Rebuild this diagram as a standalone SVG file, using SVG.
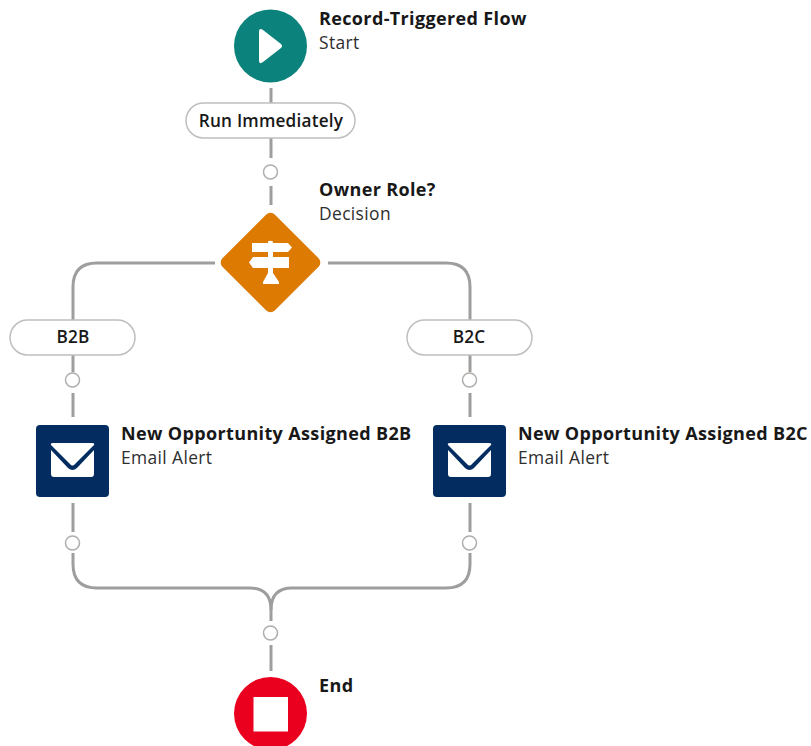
<svg xmlns="http://www.w3.org/2000/svg" width="811" height="746" viewBox="0 0 811 746">
<style>
text{font-family:"Open Sans","Noto Sans","Liberation Sans",sans-serif;fill:#181818}
.t{font-size:18px;font-weight:700;letter-spacing:.36px}
.s{font-size:17.4px;fill:#2e2e2e;letter-spacing:.38px}
.p{fill:#fff;stroke:#c0bfbf;stroke-width:1.5}
.pt{font-size:17.2px;font-weight:600;text-anchor:middle;letter-spacing:.2px}
.c{fill:none;stroke:#9f9e9d;stroke-width:3}
.o{fill:#fff;stroke:#b0adab;stroke-width:1.5}
.w{fill:#fff}
</style>
<g id="connectors">
<path class="c" d="M271 88V103M271 138V158M271 186V205"/>
<path class="c" d="M215 263H97Q73 263 73 287V320M73 355V372M73 393V417M73 503V532M73 553V564Q73 588 97 588H250Q271 588 271 610V621"/>
<path class="c" d="M328 263H446Q470 263 470 287V320M470 355V372M470 393V417M470 503V532M470 553V564Q470 588 446 588H292Q271 588 271 610"/>
<path class="c" d="M271 645V671"/>
<circle class="o" cx="270.500" cy="172" r="7"/>
<circle class="o" cx="72.500" cy="380" r="7"/>
<circle class="o" cx="469.500" cy="380" r="7"/>
<circle class="o" cx="72.500" cy="543" r="7"/>
<circle class="o" cx="469.500" cy="543" r="7"/>
<circle class="o" cx="270.500" cy="633" r="7"/>
</g>
<g id="start">
<circle cx="270.500" cy="46" r="36.500" fill="#0b827c"/>
<path class="w" d="M259 32Q259 27 263 30L281 44Q283 46 281 48L263 62Q259 65 259 60Z"/>
<text class="t" x="319" y="24.500">Record-Triggered Flow</text>
<text class="s" x="319" y="48.500">Start</text>
</g>
<g id="run-immediately">
<rect class="p" x="186" y="103" width="169" height="35" rx="17.500"/>
<text class="pt" x="271" y="127">Run Immediately</text>
</g>
<g id="decision">
<rect x="233.500" y="225.500" width="74" height="74" rx="6" fill="#dd7a01" transform="rotate(45 270.500 262.500)"/>
<path class="w" d="M252 243H268V241.500Q270 240 273 241.500V243H288L292 247.500L288 252H252Z"/>
<path class="w" d="M253 257H268V252H273V257H289V268H253L249 262.500Z"/>
<path class="w" d="M268 268H273V273L279 282V284H263V282L268 273Z"/>
<text class="t" x="319" y="195.500">Owner Role?</text>
<text class="s" x="319" y="219.500">Decision</text>
</g>
<g id="b2b">
<rect class="p" x="10" y="320" width="125" height="35" rx="17.500"/>
<text class="pt" x="73" y="343">B2B</text>
</g>
<g id="b2c">
<rect class="p" x="407" y="320" width="125" height="35" rx="17.500"/>
<text class="pt" x="469" y="343">B2C</text>
</g>
<g id="email-b2b">
<rect x="36" y="425" width="73" height="72" rx="4" fill="#032d60"/>
<path class="w" d="M53 443H92Q95 443 94 445L75 464Q72.500 467 70 464L51 445Q50 443 53 443ZM51 450L68 468Q72.500 472 77 468L94 450V474Q94 477 91 477H54Q51 477 51 474Z"/>
<text class="t" x="121" y="439.500">New Opportunity Assigned B2B</text>
<text class="s" x="121" y="463.500">Email Alert</text>
</g>
<g id="email-b2c">
<rect x="433" y="425" width="73" height="72" rx="4" fill="#032d60"/>
<path class="w" d="M450 443H489Q492 443 491 445L472 464Q469.500 467 467 464L448 445Q447 443 450 443ZM448 450L465 468Q469.500 472 474 468L491 450V474Q491 477 488 477H451Q448 477 448 474Z"/>
<text class="t" x="518" y="439.500">New Opportunity Assigned B2C</text>
<text class="s" x="518" y="463.500">Email Alert</text>
</g>
<g id="end">
<circle cx="270.500" cy="713.500" r="36.500" fill="#ea001e"/>
<rect class="w" x="253.500" y="697" width="34.500" height="34.500"/>
<text class="t" x="319" y="691.500">End</text>
</g>
</svg>
